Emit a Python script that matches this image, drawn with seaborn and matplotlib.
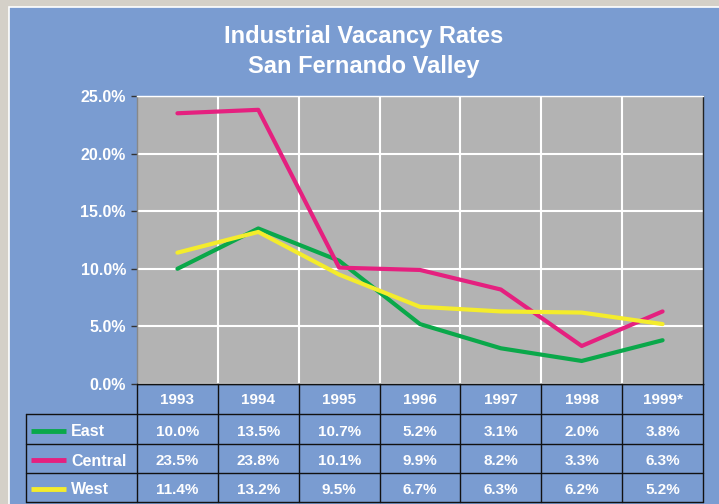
import matplotlib
matplotlib.use("Agg")
import matplotlib.pyplot as plt
import seaborn as sns
import pandas as pd
from matplotlib.patches import Rectangle
from matplotlib.lines import Line2D

years = ["1993", "1994", "1995", "1996", "1997", "1998", "1999*"]
regions = ["East", "Central", "West"]
east = [10.0, 13.5, 10.7, 5.2, 3.1, 2.0, 3.8]
central = [23.5, 23.8, 10.1, 9.9, 8.2, 3.3, 6.3]
west = [11.4, 13.2, 9.5, 6.7, 6.3, 6.2, 5.2]
colors = {"East": "#0AA84A", "Central": "#E5207F", "West": "#F4EC2C"}
title_lines = ["Industrial Vacancy Rates", "San Fernando Valley"]

series = {"East": east, "Central": central, "West": west}
rows = []
for r in regions:
    for i, v in enumerate(series[r]):
        rows.append({"pos": i, "value": v, "region": r})
df = pd.DataFrame(rows)

sns.set_theme(style="white")
plt.rcParams["font.family"] = ["Liberation Sans", "DejaVu Sans"]

W, H = 719, 504
fig = plt.figure(figsize=(W / 100, H / 100), dpi=100)
fig.patch.set_facecolor("#D4D0C8")

BLUE = "#7A9CD1"
bg = fig.add_axes([0, 0, 1, 1], zorder=0)
bg.set_xlim(0, W)
bg.set_ylim(H, 0)
bg.axis("off")
bg.add_patch(Rectangle((9, 7), W, H, facecolor=BLUE, edgecolor="white", linewidth=1.2))

L, R, T, B = 137, 703, 96, 384
ax = fig.add_axes([L / W, 1 - B / H, (R - L) / W, (B - T) / H], zorder=2)
ax.set_facecolor("#B3B3B3")
sns.lineplot(data=df, x="pos", y="value", hue="region", palette=colors,
             linewidth=3, legend=False, ax=ax, sort=False)
ax.set_xlim(-0.5, len(years) - 0.5)
ax.set_ylim(0, 25)
yt = [0, 5, 10, 15, 20, 25]
ax.set_yticks(yt)
ax.set_yticklabels([f"{t:.1f}%" for t in yt], color="white", fontweight="bold", fontsize=11.5)
ax.set_xticks([i - 0.5 for i in range(1, len(years))])
ax.set_xticklabels([])
ax.tick_params(axis="x", length=0)
ax.tick_params(axis="y", length=4, width=1, color="#333333", direction="out", pad=4, left=True)
ax.grid(True, axis="both", color="white", linewidth=1.5)
ax.set_xlabel("")
ax.set_ylabel("")
ax.spines["top"].set_color("white")
ax.spines["right"].set_color("#222222")
ax.spines["left"].set_color("#888888")
ax.spines["bottom"].set_color("#222222")
for s in ax.spines.values():
    s.set_linewidth(1)

ov = fig.add_axes([0, 0, 1, 1], zorder=3)
ov.set_xlim(0, W)
ov.set_ylim(H, 0)
ov.axis("off")

for k, (line, yc) in enumerate(zip(title_lines, [37, 67])):
    ov.text(364, yc, line, ha="center", va="center", color="white",
            fontsize=17, fontweight="bold")

# data table
cw = (R - L) / len(years)
row_y = [384, 414, 444, 473, 502]
lc = "#111111"
ov.add_line(Line2D([L, R], [row_y[0], row_y[0]], color=lc, lw=1))
for y in row_y[1:]:
    ov.add_line(Line2D([26, R], [y, y], color=lc, lw=1))
ov.add_line(Line2D([26, 26], [row_y[1], row_y[-1]], color=lc, lw=1))
for i in range(len(years) + 1):
    x = L + i * cw
    ov.add_line(Line2D([x, x], [row_y[0], row_y[-1]], color=lc, lw=1))
for i, yr in enumerate(years):
    ov.text(L + (i + 0.5) * cw, 400, yr, ha="center", va="center",
            color="white", fontsize=11, fontweight="bold")
for j, r in enumerate(regions):
    yc = (row_y[j + 1] + row_y[j + 2]) / 2 + 2.5
    ov.add_line(Line2D([31, 66], [yc - 1, yc - 1], color=colors[r], lw=3.5, solid_capstyle="butt"))
    ov.text(71, yc, r, ha="left", va="center", color="white", fontsize=11.5, fontweight="bold")
    for i, v in enumerate(series[r]):
        ov.text(L + (i + 0.5) * cw, yc, f"{v:.1f}%", ha="center", va="center",
                color="white", fontsize=11, fontweight="bold")

fig.savefig("out.png", dpi=100, facecolor=fig.get_facecolor())
